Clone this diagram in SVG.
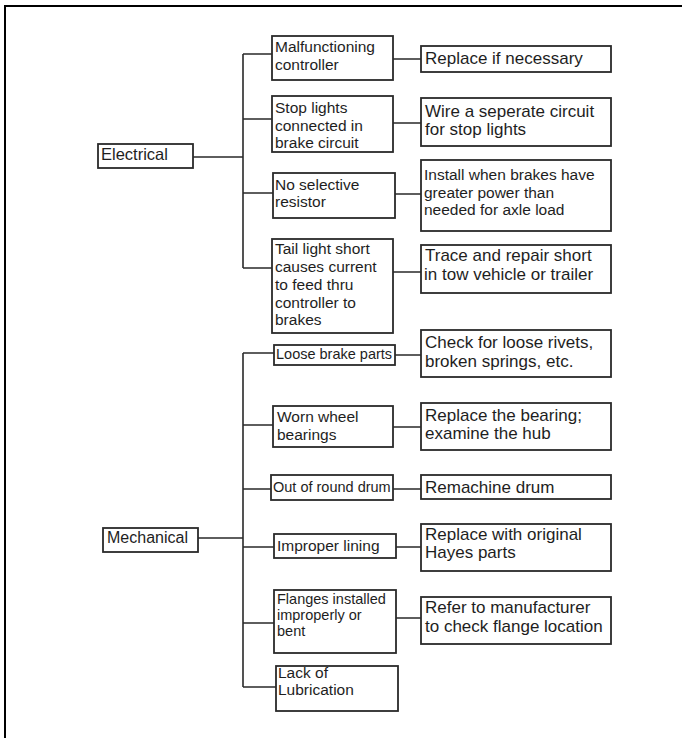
<svg xmlns="http://www.w3.org/2000/svg" width="682" height="738" viewBox="0 0 682 738">
<style>
.box{fill:#fff;stroke:#2a2a2a;stroke-width:1.8}
.ln{fill:none;stroke:#2a2a2a;stroke-width:1.6}
text{font-family:"Liberation Sans",Arial,sans-serif;fill:#1e1e1e}
.l{font-size:15.5px}
.s{font-size:14.5px}
.r{font-size:17px}
.ri{font-size:15.5px}
</style>
<rect width="682" height="738" fill="#fff"/>
<path d="M5 738 V6 H682" fill="none" stroke="#000" stroke-width="2"/>
<g id="connectors">
<path class="ln" d="M193 157 H243 M243 54 V268 M243 54 H272 M243 119 H272 M243 193 H273 M243 268 H272"/>
<path class="ln" d="M393 59 H421 M393 123 H421 M395 194 H421 M393 272 H421"/>
<path class="ln" d="M198 538 H243 M243 353 V687 M243 353 H274 M243 425 H273 M243 489 H271 M243 547 H274 M243 623 H274 M243 687 H276"/>
<path class="ln" d="M395 355 H421 M393 427 H421 M393 489 H421 M396 547 H421 M396 618 H421"/>
</g>
<g id="electrical"><rect class="box" x="98" y="144" width="95" height="24"/><text class="l" x="101" y="160" style="font-size:16.5px">Electrical</text></g>
<g id="malfunctioning"><rect class="box" x="272" y="36" width="121" height="44"/><text class="l" x="275" y="52">Malfunctioning</text><text class="l" x="275" y="70">controller</text></g>
<g id="stoplights"><rect class="box" x="272" y="96" width="121" height="56"/><text class="l" x="275" y="113">Stop lights</text><text class="l" x="275" y="131">connected in</text><text class="l" x="275" y="148">brake circuit</text></g>
<g id="noselective"><rect class="box" x="273" y="173" width="122" height="45"/><text class="l" x="275" y="190">No selective</text><text class="l" x="275" y="207">resistor</text></g>
<g id="taillight"><rect class="box" x="272" y="239" width="121" height="94"/><text class="l" x="275" y="254">Tail light short</text><text class="l" x="275" y="272">causes current</text><text class="l" x="275" y="290">to feed thru</text><text class="l" x="275" y="308">controller to</text><text class="l" x="275" y="325">brakes</text></g>
<g id="replaceifnecessary"><rect class="box" x="421" y="46" width="190" height="26"/><text class="r" x="425" y="64">Replace if necessary</text></g>
<g id="wireseperate"><rect class="box" x="421" y="98" width="190" height="48"/><text class="r" x="425" y="117">Wire a seperate circuit</text><text class="r" x="425" y="135">for stop lights</text></g>
<g id="install"><rect class="box" x="421" y="160" width="190" height="71"/><text class="ri" x="424" y="180">Install when brakes have</text><text class="ri" x="424" y="198">greater power than</text><text class="ri" x="424" y="215">needed for axle load</text></g>
<g id="trace"><rect class="box" x="421" y="245" width="190" height="48"/><text class="r" x="425" y="261">Trace and repair short</text><text class="r" x="424" y="280">in tow vehicle or trailer</text></g>
<g id="mechanical"><rect class="box" x="103" y="528" width="95" height="24"/><text class="l" x="107" y="543" style="font-size:16px">Mechanical</text></g>
<g id="loosebrake"><rect class="box" x="274" y="345" width="121" height="20"/><text class="s" x="276" y="359">Loose brake parts</text></g>
<g id="wornwheel"><rect class="box" x="273" y="406" width="120" height="41"/><text class="l" x="277" y="422">Worn wheel</text><text class="l" x="277" y="440">bearings</text></g>
<g id="outofround"><rect class="box" x="271" y="475" width="122" height="25"/><text class="s" x="273" y="492">Out of round drum</text></g>
<g id="improperlining"><rect class="box" x="274" y="534" width="122" height="24"/><text class="l" x="277" y="551">Improper lining</text></g>
<g id="flanges"><rect class="box" x="274" y="590" width="122" height="63"/><text class="s" x="277" y="604">Flanges installed</text><text class="s" x="277" y="620">improperly or</text><text class="s" x="277" y="636">bent</text></g>
<g id="lacklubrication"><rect class="box" x="276" y="666" width="122" height="45"/><text class="l" x="278" y="678">Lack of</text><text class="l" x="278" y="695">Lubrication</text></g>
<g id="checkloose"><rect class="box" x="421" y="330" width="190" height="47"/><text class="r" x="425" y="348">Check for loose rivets,</text><text class="r" x="425" y="367">broken springs, etc.</text></g>
<g id="replacebearing"><rect class="box" x="421" y="403" width="190" height="47"/><text class="r" x="425" y="421">Replace the bearing;</text><text class="r" x="425" y="439">examine the hub</text></g>
<g id="remachine"><rect class="box" x="421" y="475" width="190" height="24"/><text class="r" x="425" y="493">Remachine drum</text></g>
<g id="replaceoriginal"><rect class="box" x="421" y="524" width="190" height="47"/><text class="r" x="425" y="540">Replace with original</text><text class="r" x="425" y="558">Hayes parts</text></g>
<g id="refer"><rect class="box" x="421" y="597" width="190" height="47"/><text class="r" x="425" y="613">Refer to manufacturer</text><text class="r" x="425" y="632">to check flange location</text></g>
</svg>
